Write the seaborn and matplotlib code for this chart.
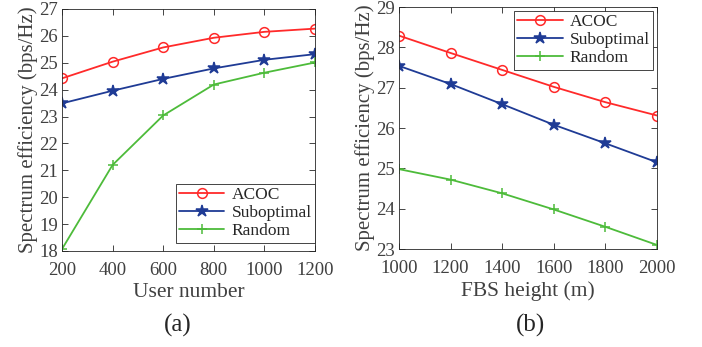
import pandas as pd
import numpy as np
import seaborn as sns
import matplotlib.pyplot as plt

# (a) spectrum efficiency vs user number
users = [200, 400, 600, 800, 1000, 1200]
acoc_a = [24.42, 25.04, 25.57, 25.93, 26.15, 26.27]
subopt_a = [23.49, 23.96, 24.40, 24.79, 25.11, 25.32]
random_a = [18.07, 21.20, 23.04, 24.19, 24.63, 25.01]

# (b) spectrum efficiency vs FBS height
heights = [1000, 1200, 1400, 1600, 1800, 2000]
acoc_b = [28.29, 27.86, 27.44, 27.02, 26.64, 26.31]
subopt_b = [27.54, 27.09, 26.59, 26.08, 25.62, 25.15]
random_b = [24.98, 24.72, 24.38, 23.98, 23.55, 23.10]

methods = ['ACOC', 'Suboptimal', 'Random']
colors = {'ACOC': '#ff2a2a', 'Suboptimal': '#1f3b95', 'Random': '#4dbb3a'}
markers = {'ACOC': 'o', 'Suboptimal': '*', 'Random': '+'}

sns.set_style('ticks')
plt.rcParams['font.family'] = ['Liberation Serif', 'DejaVu Serif']

df_a = pd.DataFrame({'x': users * 3,
                     'y': acoc_a + subopt_a + random_a,
                     'method': np.repeat(methods, len(users))})
df_b = pd.DataFrame({'x': heights * 3,
                     'y': acoc_b + subopt_b + random_b,
                     'method': np.repeat(methods, len(heights))})

fig = plt.figure(figsize=(7.02, 3.47), dpi=100)
ax1 = fig.add_axes([0.0883, 0.2767, 0.3604, 0.6974])
ax2 = fig.add_axes([0.5684, 0.2824, 0.3675, 0.6974])

tick_color = '#404040'


def draw(ax, df, xlabel, xlim, ylim, loc, anchor):
    for m in methods:
        sub = df[df['method'] == m]
        mfc = 'none' if m == 'ACOC' else colors[m]
        ms = {'ACOC': 7, 'Suboptimal': 9, 'Random': 7}[m]
        sns.lineplot(data=sub, x='x', y='y', ax=ax, color=colors[m],
                     marker=markers[m], markersize=ms, markerfacecolor=mfc,
                     markeredgecolor=colors[m], markeredgewidth=1.1,
                     linewidth=1.3, label=m)
    ax.set_xlim(*xlim)
    ax.set_ylim(*ylim)
    ax.set_xlabel(xlabel, fontsize=15.5, color=tick_color, labelpad=3)
    ax.set_ylabel('Spectrum efficiency (bps/Hz)', fontsize=15, color=tick_color, labelpad=1)
    ax.tick_params(direction='in', top=True, right=True, labelsize=13.5,
                   colors='#262626', labelcolor=tick_color, length=4, width=0.6)
    ax.tick_params(axis='x', pad=8)
    ax.tick_params(axis='y', pad=3)
    for s in ax.spines.values():
        s.set_visible(True)
        s.set_linewidth(0.6)
        s.set_color('#262626')
    leg = ax.legend(loc=loc, bbox_to_anchor=anchor, fontsize=12.5, frameon=True,
                    fancybox=False, framealpha=1, edgecolor='#262626',
                    handlelength=2.6, borderpad=0.2, labelspacing=0.1,
                    handletextpad=0.4, borderaxespad=0.0)
    leg.get_frame().set_linewidth(0.6)
    for t in leg.get_texts():
        t.set_color('#262626')


draw(ax1, df_a, 'User number', (200, 1200), (18, 27), 'lower right', (1.0, 0.035))
ax1.set_xticks(users)
ax1.set_yticks(range(18, 28))

draw(ax2, df_b, 'FBS height (m)', (1000, 2000), (23, 29), 'upper right', (0.985, 0.985))
ax2.set_xticks(heights)
ax2.set_yticks(range(23, 30))

fig.text(0.2536, 0.063, '(a)', fontsize=18, ha='center', va='center', color='#262626')
fig.text(0.7564, 0.063, '(b)', fontsize=18, ha='center', va='center', color='#262626')

fig.savefig('out.png', dpi=100)
